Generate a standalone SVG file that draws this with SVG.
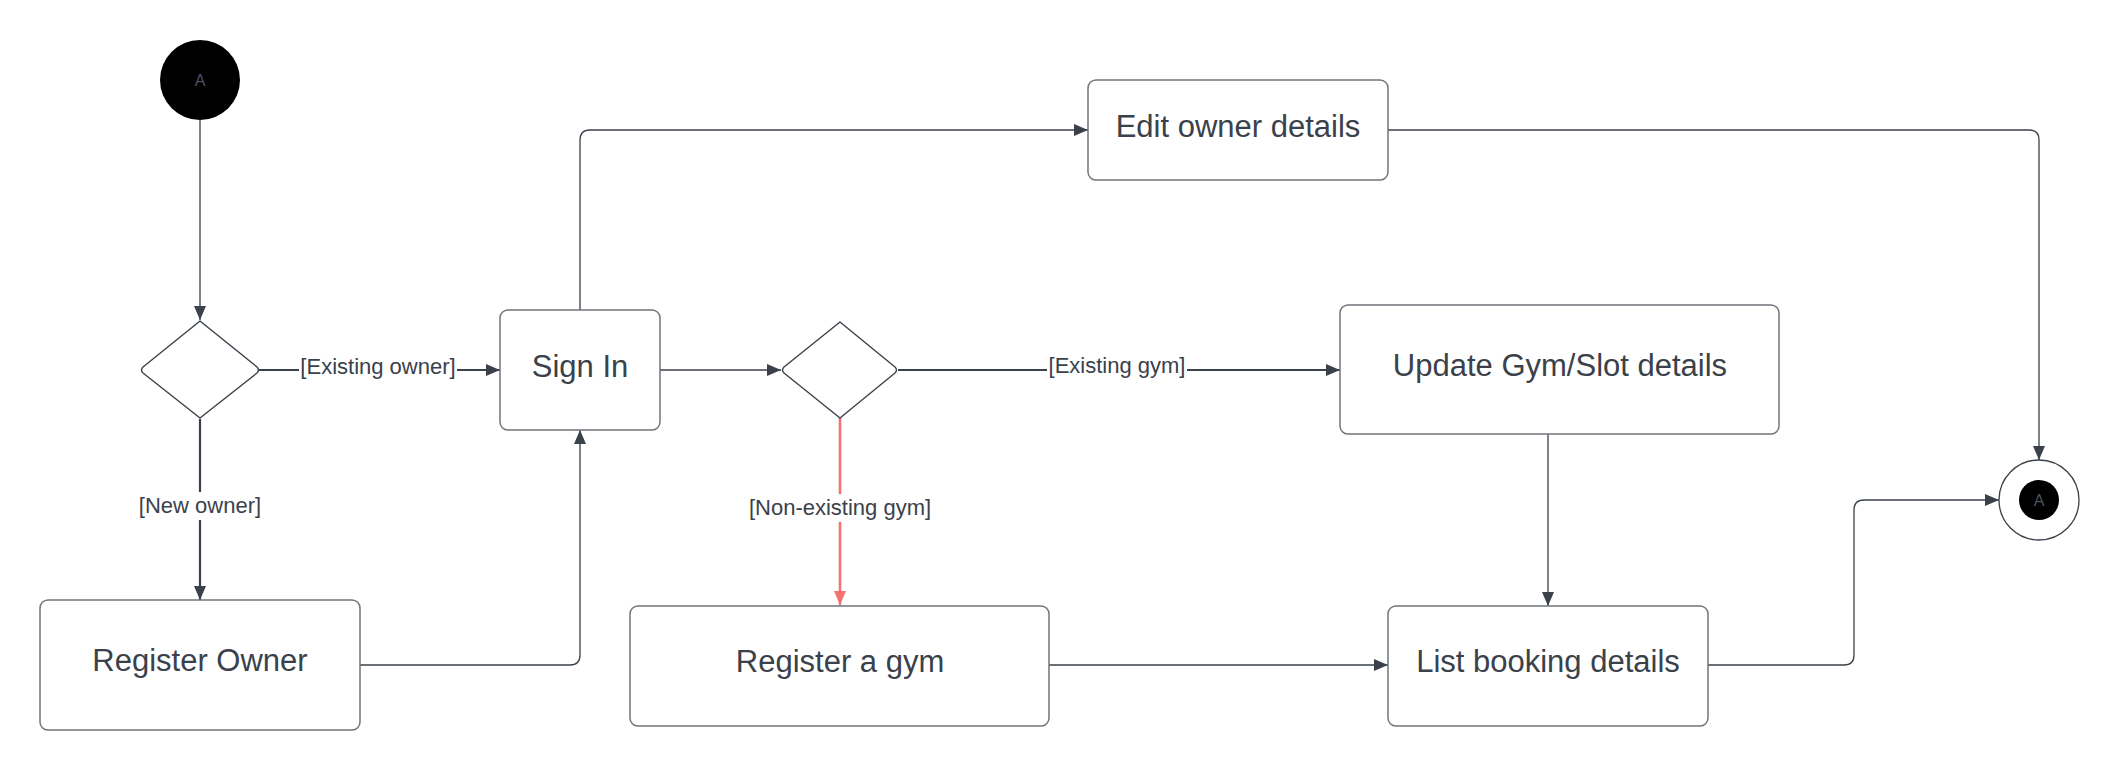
<svg xmlns="http://www.w3.org/2000/svg" width="2120" height="770" viewBox="0 0 2120 770">
<style>
  .box { fill: #ffffff; stroke: #70747b; stroke-width: 1.5; }
  .dia { fill: #ffffff; stroke: #3a414a; stroke-width: 1.4; stroke-linejoin: round; }
  .lbl { font-family: "Liberation Sans", Arial, sans-serif; font-size: 31px; fill: #3a414a; text-anchor: middle; }
  .elbl { font-family: "Liberation Sans", Arial, sans-serif; font-size: 22px; fill: #3a414a; text-anchor: middle; }
  .small { font-family: "Liberation Sans", Arial, sans-serif; font-size: 16px; fill: #4c535c; text-anchor: middle; }
  .ln { fill: none; stroke: #3a414a; stroke-width: 1.3; }
  .thick { stroke-width: 2.2; }
  .red { fill: none; stroke: #f47272; stroke-width: 2.6; }
  .bg { fill: #ffffff; }
</style>
<defs>
  <marker id="arr" markerUnits="userSpaceOnUse" markerWidth="16" markerHeight="12" refX="14" refY="6" orient="auto">
    <path d="M0,0 L14,6 L0,12 Z" fill="#3a414a"/>
  </marker>
  <marker id="arrRed" markerUnits="userSpaceOnUse" markerWidth="16" markerHeight="12" refX="14" refY="6" orient="auto">
    <path d="M0,0 L14,6 L0,12 Z" fill="#f47272"/>
  </marker>
</defs>
<rect width="2120" height="770" fill="#ffffff"/>

<g id="connectors">
  <path class="ln" d="M200,120 V320" marker-end="url(#arr)"/>
  <path class="ln thick" d="M258,370 H500" marker-end="url(#arr)"/>
  <path class="ln thick" d="M200,419 V600" marker-end="url(#arr)"/>
  <path class="ln" d="M360,665 H570 Q580,665 580,655 V430" marker-end="url(#arr)"/>
  <path class="ln" d="M580,310 V140 Q580,130 590,130 H1088" marker-end="url(#arr)"/>
  <path class="ln" d="M1388,130 H2029 Q2039,130 2039,140 V460" marker-end="url(#arr)"/>
  <path class="ln" d="M660,370 H781" marker-end="url(#arr)"/>
  <path class="ln thick" d="M898,370 H1340" marker-end="url(#arr)"/>
  <path class="red" d="M840,418 V605" marker-end="url(#arrRed)"/>
  <path class="ln" d="M1548,434 V606" marker-end="url(#arr)"/>
  <path class="ln" d="M1049,665 H1388" marker-end="url(#arr)"/>
  <path class="ln" d="M1708,665 H1844 Q1854,665 1854,655 V510 Q1854,500 1864,500 H1999" marker-end="url(#arr)"/>

  <rect class="bg" x="299" y="354" width="158" height="28"/>
  <text class="elbl" x="378" y="374">[Existing owner]</text>
  <rect class="bg" x="138" y="492" width="124" height="28"/>
  <text class="elbl" x="200" y="513">[New owner]</text>
  <rect class="bg" x="1047" y="352" width="140" height="28"/>
  <text class="elbl" x="1117" y="373">[Existing gym]</text>
  <rect class="bg" x="746" y="494" width="188" height="28"/>
  <text class="elbl" x="840" y="515">[Non-existing gym]</text>
</g>

<g id="start">
  <circle cx="200" cy="80" r="40" fill="#000000"/>
  <text class="small" x="200" y="86">A</text>
</g>

<g id="decision1">
  <path class="dia" d="M200,321 L257,367 Q260,370 257,373 L200,418 L143,373 Q140,370 143,367 Z"/>
</g>

<g id="signin">
  <rect class="box" x="500" y="310" width="160" height="120" rx="8"/>
  <text class="lbl" x="580" y="377">Sign In</text>
</g>

<g id="registerOwner">
  <rect class="box" x="40" y="600" width="320" height="130" rx="8"/>
  <text class="lbl" x="200" y="671">Register Owner</text>
</g>

<g id="editOwner">
  <rect class="box" x="1088" y="80" width="300" height="100" rx="8"/>
  <text class="lbl" x="1238" y="137">Edit owner details</text>
</g>

<g id="decision2">
  <path class="dia" d="M840,322 L895,367 Q898,370 895,373 L840,418 L784,373 Q781,370 784,367 Z"/>
</g>

<g id="updateGym">
  <rect class="box" x="1340" y="305" width="439" height="129" rx="8"/>
  <text class="lbl" x="1560" y="376">Update Gym/Slot details</text>
</g>

<g id="registerGym">
  <rect class="box" x="630" y="606" width="419" height="120" rx="8"/>
  <text class="lbl" x="840" y="672">Register a gym</text>
</g>

<g id="listBooking">
  <rect class="box" x="1388" y="606" width="320" height="120" rx="8"/>
  <text class="lbl" x="1548" y="672">List booking details</text>
</g>

<g id="end">
  <circle cx="2039" cy="500" r="40" fill="#ffffff" stroke="#3a414a" stroke-width="1.3"/>
  <circle cx="2039" cy="500" r="20" fill="#000000"/>
  <text class="small" x="2039" y="506">A</text>
</g>
</svg>
